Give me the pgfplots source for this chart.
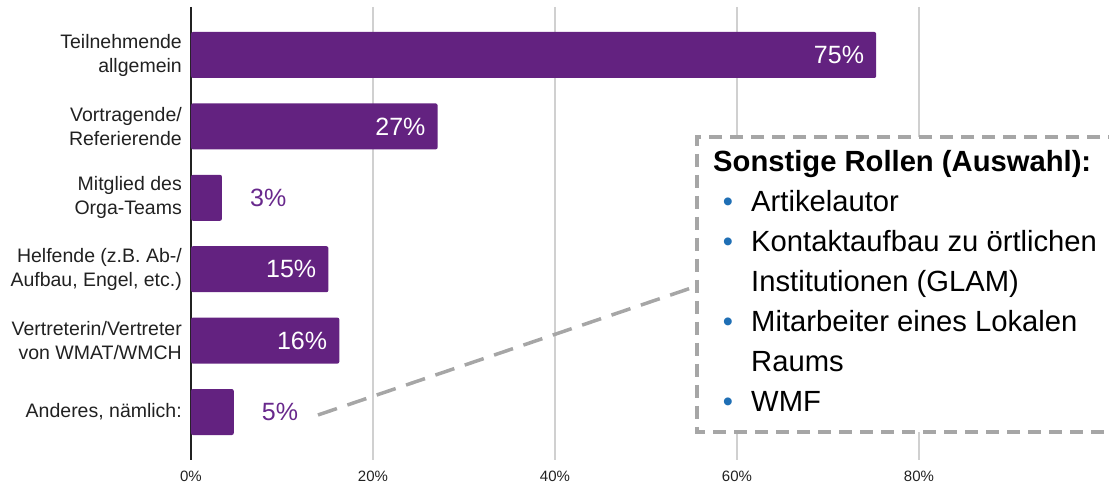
\documentclass[border=0pt]{standalone}
\usepackage{pgfplots}
\pgfplotsset{compat=1.18}
\usepackage{fontspec}
\setmainfont{Liberation Sans}
\definecolor{barpurple}{RGB}{99,34,128}
\definecolor{lblpurple}{RGB}{104,40,140}
\definecolor{dashgray}{RGB}{166,166,166}
\definecolor{gridgray}{RGB}{208,208,208}
\definecolor{bulletblue}{RGB}{31,111,181}
\definecolor{txt}{RGB}{33,33,33}
\begin{document}
\begin{tikzpicture}
\begin{axis}[
  at={(0,0)}, anchor=south west,
  scale only axis,
  width=910pt, height=453pt,
  xmin=0, xmax=100,
  ymin=-0.672, ymax=5.672,
  y dir=reverse,
  axis y line*=left,
  axis x line*=bottom,
  x axis line style={draw=none},
  y axis line style={draw=txt, line width=1.2pt},
  major tick length=0pt,
  xtick={0,20,40,60,80},
  xticklabel={\pgfmathprintnumber{\tick}\%},
  xticklabel style={font=\fontsize{15}{17}\selectfont, text=txt, inner sep=0pt, yshift=-11pt},
  /pgf/number format/assume math mode=true,
  xmajorgrids,
  grid style={draw=gridgray, line width=1.2pt},
  ytick={0,1,2,3,4,5},
  yticklabels={{Teilnehmende\\allgemein},{Vortragende/\\Referierende},{Mitglied des\\Orga-Teams},{Helfende (z.B. Ab-/\\Aufbau, Engel, etc.)},{Vertreterin/Vertreter\\von WMAT/WMCH},{Anderes, nämlich:}},
  yticklabel style={font=\fontsize{19.5}{24}\selectfont, text=txt, align=right, inner sep=0pt, xshift=-9pt},
  clip=false,
]
\addplot[xbar, bar width=46pt, fill=barpurple, draw=none, rounded corners=2pt]
  coordinates {(75.3,0) (27.1,1) (3.4,2) (15.1,3) (16.3,4) (4.7,5)};
\addplot[draw=none, mark=none, nodes near coords, point meta=explicit symbolic,
  nodes near coords style={anchor=east, xshift=-12pt, inner sep=0pt, text=white, font=\fontsize{25}{28}\selectfont}]
  coordinates {(75.3,0) [75\%] (27.1,1) [27\%] (15.1,3) [15\%] (16.3,4) [16\%]};
\addplot[draw=none, mark=none, nodes near coords, point meta=explicit symbolic,
  nodes near coords style={anchor=west, xshift=28pt, inner sep=0pt, text=lblpurple, font=\fontsize{25}{28}\selectfont}]
  coordinates {(3.4,2) [3\%] (4.7,5) [5\%]};
\end{axis}
% connector
\draw[dashgray, line width=3.5pt, dash pattern=on 20pt off 11pt] (127pt,45pt) -- (506pt,174pt);
% box
\fill[white] (506pt,28pt) rectangle (930pt,323pt);
\draw[dashgray, line width=3.5pt, dash pattern=on 13pt off 8pt] (930pt,323pt) -- (506pt,323pt) -- (506pt,28pt) -- (930pt,28pt);
\node[anchor=base west, inner sep=0pt, font=\fontsize{29.2}{34}\selectfont\bfseries] at (522pt,288pt) {Sonstige Rollen (Auswahl):};
\foreach \yy/\t/\b in {248/Artikelautor/1, 208/Kontaktaufbau zu örtlichen/1, 168/Institutionen (GLAM)/0, 128/Mitarbeiter eines Lokalen/1, 88/Raums/0, 48/WMF/1}{
  \node[anchor=base west, inner sep=0pt, font=\fontsize{29.2}{34}\selectfont] at (560pt,\yy pt) {\t};
  \ifnum\b=1
    \node[anchor=base, inner sep=0pt, font=\fontsize{29}{34}\selectfont, text=bulletblue] at (537pt,\yy pt) {•};
  \fi
}
\pgfresetboundingbox
\useasboundingbox (-191pt,-27pt) rectangle (918pt,460pt);
\end{tikzpicture}
\end{document}
